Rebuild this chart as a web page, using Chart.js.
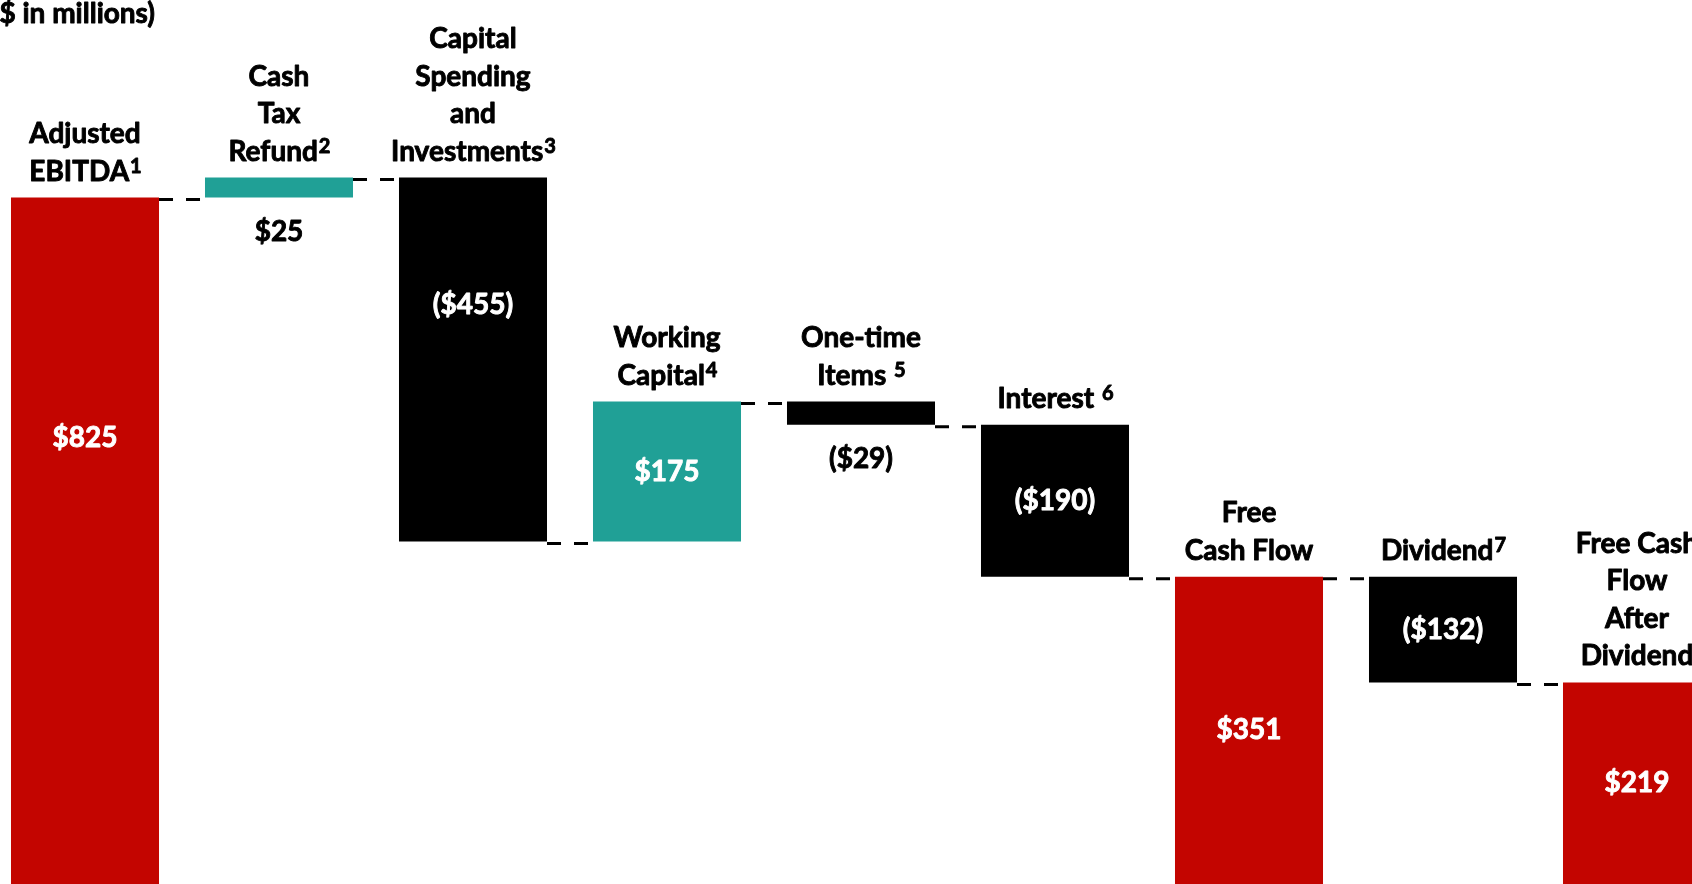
<!DOCTYPE html>
<html>
<head>
<meta charset="utf-8">
<script src="https://cdn.jsdelivr.net/npm/chart.js@4.4.1/dist/chart.umd.min.js"></script>
<style>
  html, body { margin: 0; padding: 0; background: #fff; overflow: hidden; }
  #wrap { position: absolute; left: -32px; top: 0; width: 1786px; height: 884px; }
</style>
</head>
<body>
<div id="wrap"><canvas id="bridge" width="1786" height="884"></canvas></div>
<script>
// categories (one entry per line of the label), footnote marks and the bridge values
const categoryLines = [
    ['Adjusted', 'EBITDA'],
    ['Cash', 'Tax', 'Refund'],
    ['Capital', 'Spending', 'and', 'Investments'],
    ['Working', 'Capital'],
    ['One-time', 'Items '],
    ['Interest '],
    ['Free', 'Cash Flow'],
    ['Dividend'],
    ['Free Cash', 'Flow', 'After', 'Dividend']
];
const footnotes = ['1', '2', '3', '4', '5', '6', '', '7', ''];
const amounts = [825, 25, -455, 175, -29, -190, 351, -132, 219];
const isTotal = [true, false, false, false, false, false, true, false, true];
const unitsNote = '($ in millions)';

const Y_MIN = -33;
const Y_MAX = 1072;

const RED = '#C30500';
const TEAL = '#20A096';
const FONT = 'Lato, "Open Sans", sans-serif';

function formatAmount(v) {
    return v < 0 ? `($${-v})` : `$${v}`;
}

// draw text a little heavier than plain bold (closer to the slide font)
function heavyText(ctx, text, x, y, color) {
    ctx.fillStyle = color;
    ctx.strokeStyle = color;
    ctx.lineWidth = 0.9;
    ctx.lineJoin = 'round';
    ctx.fillText(text, x, y);
    ctx.strokeText(text, x, y);
}

// floating bars: totals stand on the axis floor, changes hang off the running total
let running = 0;
const bars = [];
const levels = [];
amounts.forEach((v, i) => {
    if (isTotal[i]) {
        running = v;
        bars.push([Y_MIN, v]);
    } else {
        bars.push([running, running + v]);
        running += v;
    }
    levels.push(running);
});

const colors = amounts.map((v, i) => isTotal[i] ? RED : (v >= 0 ? TEAL : '#000000'));

const bridgeLabels = {
    id: 'bridgeLabels',
    afterDatasetsDraw(chart) {
        const ctx = chart.ctx;
        const yScale = chart.scales.y;
        const area = chart.chartArea;
        const els = chart.getDatasetMeta(0).data;

        ctx.save();

        // dashed connectors between neighbouring bars
        ctx.strokeStyle = '#000';
        ctx.lineWidth = 3;
        ctx.setLineDash([14, 13]);
        for (let i = 0; i < els.length - 1; i++) {
            const y = yScale.getPixelForValue(levels[i]) + 2;
            const x1 = els[i].x + els[i].width / 2;
            const x2 = els[i + 1].x - els[i + 1].width / 2;
            ctx.beginPath();
            ctx.moveTo(x1, y);
            ctx.lineTo(x2, y);
            ctx.stroke();
        }
        ctx.setLineDash([]);

        els.forEach((el, i) => {
            const top = Math.min(el.y, el.base);
            const bottom = Math.max(el.y, el.base);

            // category label above the bar
            const lines = categoryLines[i];
            const lastBase = top - 17;
            lines.forEach((line, j) => {
                const y = lastBase - (lines.length - 1 - j) * 37.5;
                const isLast = j === lines.length - 1;
                const sup = isLast ? footnotes[i] : '';
                ctx.font = `bold 28px ${FONT}`;
                const w = ctx.measureText(line).width;
                ctx.font = `bold 20px ${FONT}`;
                const sw = sup ? ctx.measureText(sup).width : 0;
                const x0 = el.x - (w + sw) / 2;
                ctx.textAlign = 'left';
                ctx.textBaseline = 'alphabetic';
                ctx.font = `bold 28px ${FONT}`;
                heavyText(ctx, line, x0, y, '#000');
                if (sup) {
                    ctx.font = `bold 20px ${FONT}`;
                    heavyText(ctx, sup, x0 + w + 1, y - 8, '#000');
                }
            });

            // value label
            ctx.font = `bold 28px ${FONT}`;
            ctx.textAlign = 'center';
            ctx.textBaseline = 'middle';
            const text = formatAmount(amounts[i]);
            const h = bottom - top;
            if (h < 40) {
                heavyText(ctx, text, el.x, bottom + 34, '#000');
            } else {
                const visH = Math.min(bottom, area.bottom) - top;
                const y = visH > 320 ? top + visH * 0.35 : top + visH / 2;
                heavyText(ctx, text, el.x, y, '#fff');
            }
        });

        // units note, top left
        ctx.font = `bold 28px ${FONT}`;
        ctx.textAlign = 'right';
        ctx.textBaseline = 'alphabetic';
        heavyText(ctx, unitsNote, 187, 23, '#000');

        ctx.restore();
    }
};

new Chart(document.getElementById('bridge').getContext('2d'), {
    type: 'bar',
    data: {
        labels: categoryLines.map(l => l.join(' ')),
        datasets: [{
            data: bars,
            backgroundColor: colors,
            borderWidth: 0,
            barPercentage: 0.763,
            categoryPercentage: 1.0
        }]
    },
    options: {
        responsive: false,
        animation: false,
        layout: { padding: { left: 20, right: 20, top: 0, bottom: 0 } },
        plugins: { legend: { display: false }, tooltip: { enabled: false } },
        scales: {
            x: { display: false },
            y: { display: false, min: Y_MIN, max: Y_MAX }
        }
    },
    plugins: [bridgeLabels]
});
</script>
</body>
</html>
